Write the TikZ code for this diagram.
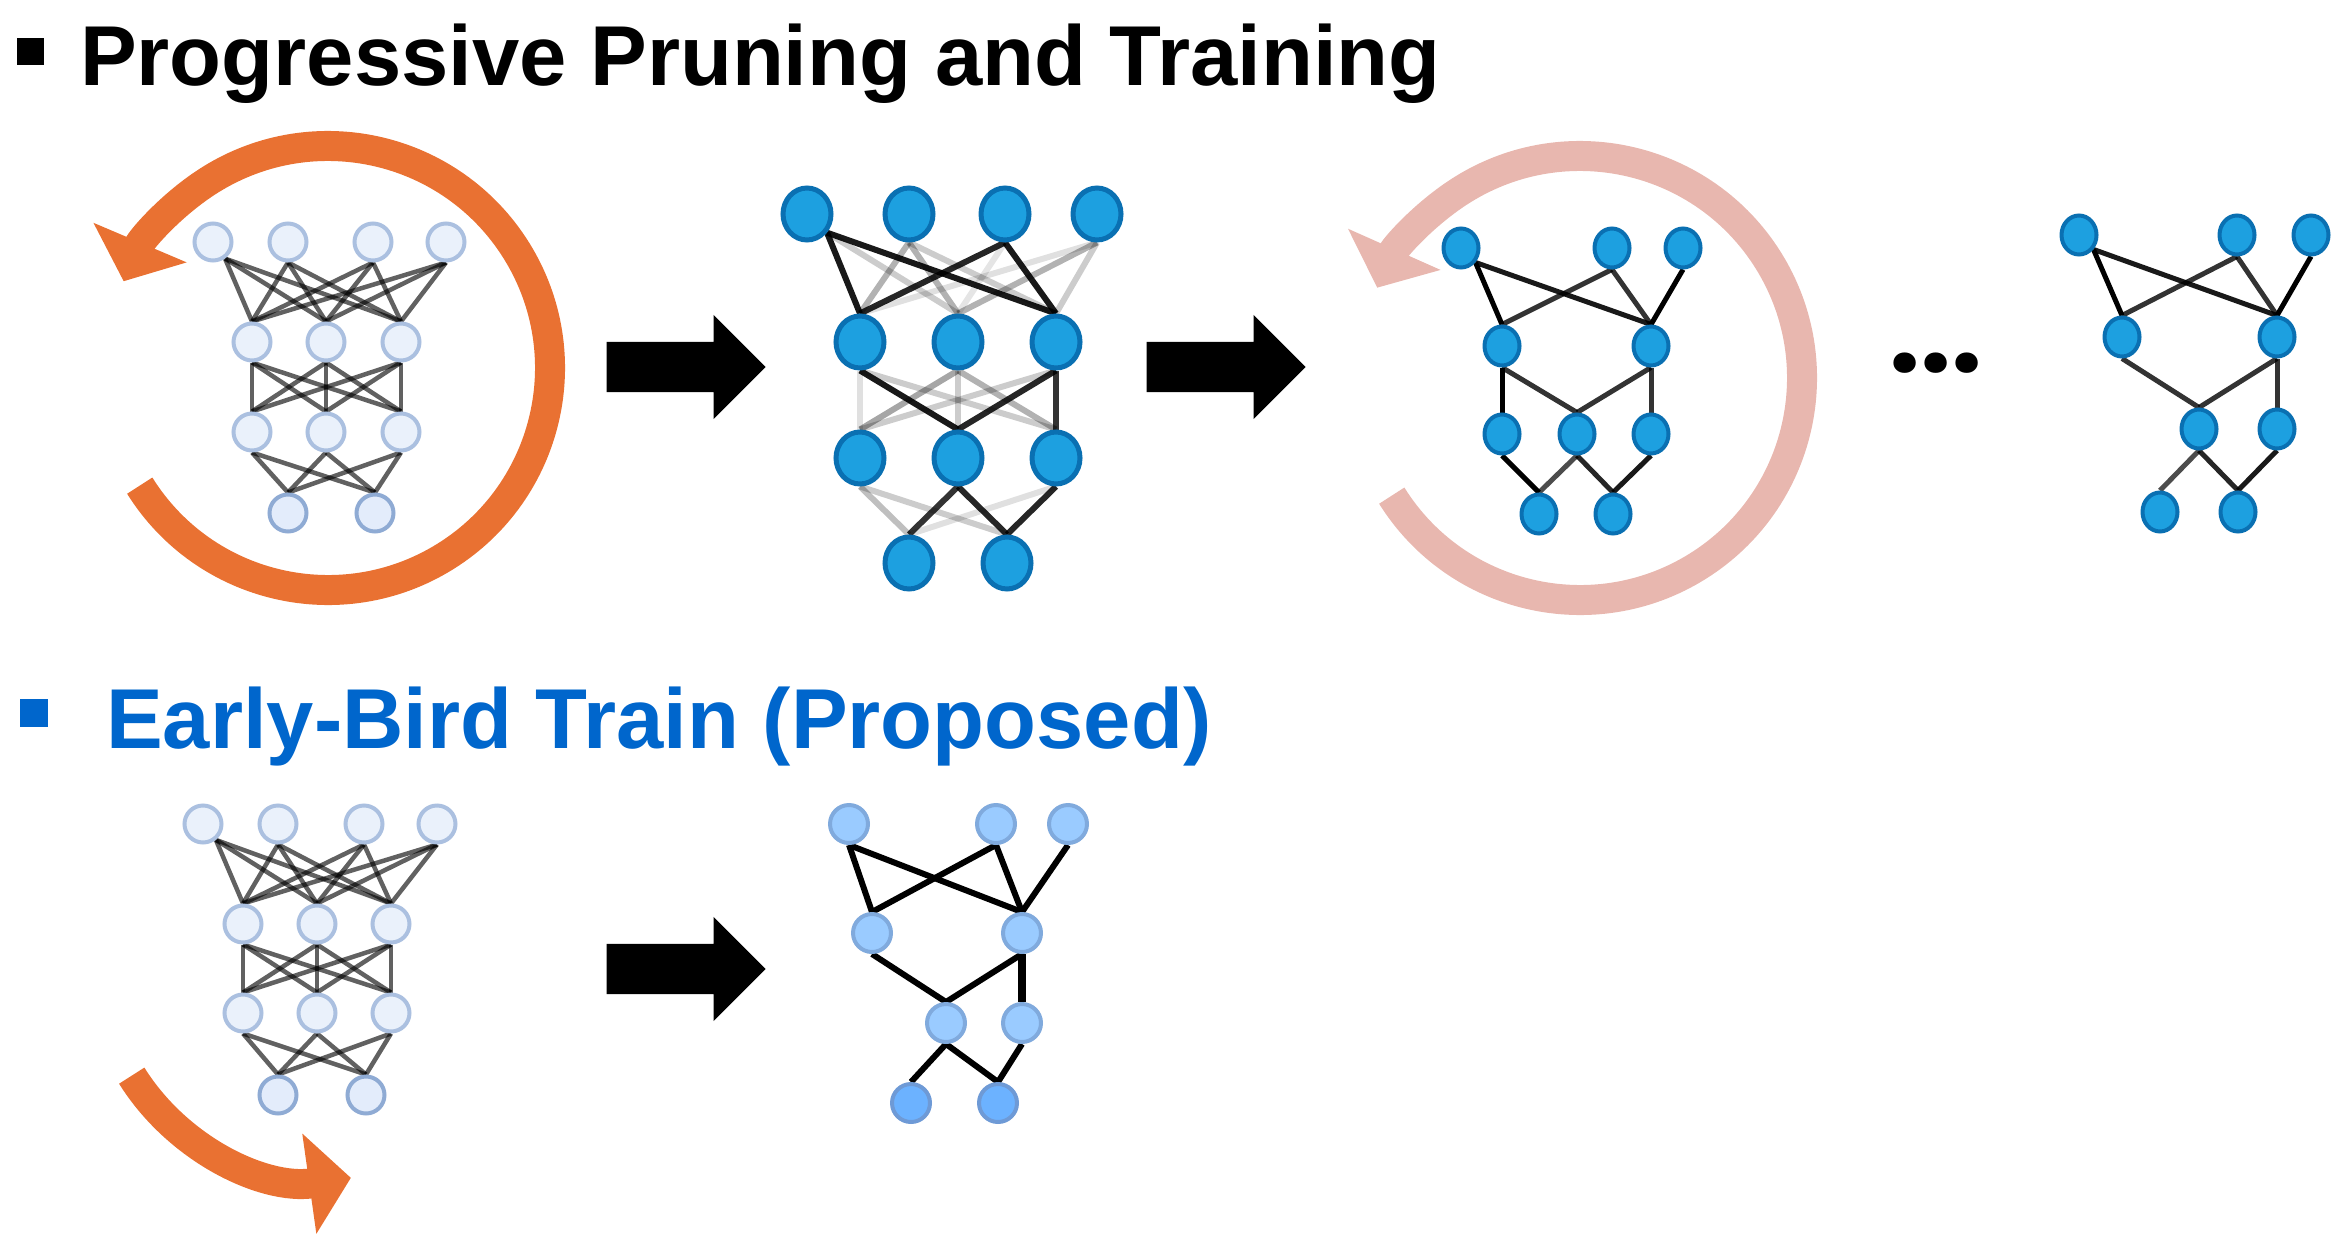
\documentclass[tikz,border=0pt]{standalone}
\usepackage{fontspec}
\setmainfont{Liberation Sans}
\newfontfamily\dotfont{Poppins}
\usetikzlibrary{arrows.meta,shapes.geometric,shapes.arrows,backgrounds}

\definecolor{orangeloop}{HTML}{E97132}
\definecolor{pinkloop}{HTML}{E8B7AF}
\definecolor{ebblue}{HTML}{0066CC}
\definecolor{paleFill}{HTML}{EAF1FB}
\definecolor{paleLine}{HTML}{ABC0E0}
\definecolor{paleFillD}{HTML}{E3ECFB}
\definecolor{paleLineD}{HTML}{8FABD4}
\definecolor{denseFill}{HTML}{1DA0E0}
\definecolor{denseLine}{HTML}{0A70B2}
\definecolor{ticketFill}{HTML}{9ACBFF}
\definecolor{ticketLine}{HTML}{80AADD}
\definecolor{ticketFillD}{HTML}{6CB2FF}
\definecolor{ticketLineD}{HTML}{6E9AD6}

\begin{document}
\begin{tikzpicture}[
  x=1pt, y=-1pt,
  title/.style={anchor=base west, inner sep=0pt, font=\fontsize{85}{100}\selectfont\bfseries},
  bullet/.style={rectangle, minimum size=27pt, inner sep=0pt},
  pale/.style={circle, draw=paleLine, fill=paleFill, line width=4pt, minimum size=37pt, inner sep=0pt},
  paleout/.style={pale, draw=paleLineD, fill=paleFillD},
  dense/.style={ellipse, draw=denseLine, fill=denseFill, line width=5pt, minimum width=48pt, minimum height=52pt, inner sep=0pt},
  pruned/.style={ellipse, draw=denseLine, fill=denseFill, line width=4pt, minimum width=35pt, minimum height=39pt, inner sep=0pt},
  ticket/.style={circle, draw=ticketLine, fill=ticketFill, line width=4pt, minimum size=38pt, inner sep=0pt},
  ticketout/.style={ticket, draw=ticketLineD, fill=ticketFillD},
  wire/.style={line width=4.5pt, black, opacity=0.62},
  link/.style={line width=6pt, black},
  thinlink/.style={line width=5pt, black},
  cycarrow/.style={line width=30pt, -{Triangle[length=42pt, width=99pt]}},
  bigarrow/.style={single arrow, fill=black, inner xsep=0pt, inner ysep=25pt, minimum height=159pt, single arrow head extend=27pt, anchor=tip},
]
\useasboundingbox (0,0) rectangle (2348,1234);

\node[bullet, fill=black] (mark1) at (30,51) {};
\node[title] (head1) at (80,85) {Progressive Pruning and Training};
\node[bullet, fill=ebblue, minimum size=28pt] (mark2) at (34,713) {};
\node[title, text=ebblue] (head2) at (106,748) {Early-Bird Train (Proposed)};

\coordinate (cA) at (328,368);
\draw[cycarrow, orangeloop] (cA) ++(148:222) arc[start angle=148, end angle=-157, radius=222];
\coordinate (cC) at (1580,378);
\draw[cycarrow, pinkloop] (cC) ++(148:222) arc[start angle=148, end angle=-156, radius=222];
\coordinate (cE) at (320,958);
\draw[cycarrow, orangeloop] (cE) ++(148:222) arc[start angle=148, end angle=82, radius=222];

\node[bigarrow] (go1) at (766,367) {};
\node[bigarrow] (go2) at (1306,367) {};
\node[bigarrow] (go3) at (766,969) {};
\node[anchor=base west, inner sep=0pt, font=\dotfont\fontsize{110}{120}\selectfont\bfseries] (more) at (1889,372) {...};

\node[pale] (At1) at (213,242) {};
\node[pale] (At2) at (288,242) {};
\node[pale] (At3) at (373,242) {};
\node[pale] (At4) at (446,242) {};
\node[pale] (Ah1) at (252,342) {};
\node[pale] (Ah2) at (326,342) {};
\node[pale] (Ah3) at (401,342) {};
\node[pale] (Ag1) at (252,432) {};
\node[pale] (Ag2) at (326,432) {};
\node[pale] (Ag3) at (401,432) {};
\node[paleout] (Ao1) at (288,513) {};
\node[paleout] (Ao2) at (375,513) {};
\begin{scope}[on background layer]
  \foreach \s in {At1.-54, At2.south, At3.south, At4.south} {\foreach \j in {1,2,3} {\draw[wire] (\s) -- (Ah\j.north);}}
  \foreach \i in {1,2,3} {\foreach \j in {1,2,3} {\draw[wire] (Ah\i.south) -- (Ag\j.north);}}
  \foreach \i in {1,2,3} {\foreach \j in {1,2} {\draw[wire] (Ag\i.south) -- (Ao\j.north);}}
\end{scope}

\node[dense] (Bt1) at (807,214) {};
\node[dense] (Bt2) at (909,214) {};
\node[dense] (Bt3) at (1005,214) {};
\node[dense] (Bt4) at (1097,214) {};
\node[dense] (Bh1) at (860,342) {};
\node[dense] (Bh2) at (958,342) {};
\node[dense] (Bh3) at (1056,342) {};
\node[dense] (Bg1) at (860,458) {};
\node[dense] (Bg2) at (958,458) {};
\node[dense] (Bg3) at (1056,458) {};
\node[dense] (Bo1) at (909,563) {};
\node[dense] (Bo2) at (1007,563) {};
\begin{scope}[on background layer]
  \foreach \a/\b/\o in {Bt1.-43/Bh1/0.9, Bt1.-43/Bh2/0.2, Bt1.-43/Bh3/0.9,
      Bt2.south/Bh1/0.3, Bt2.south/Bh2/0.3, Bt2.south/Bh3/0.2,
      Bt3.south/Bh1/0.85, Bt3.south/Bh2/0.1, Bt3.south/Bh3/0.9,
      Bt4.south/Bh1/0.12, Bt4.south/Bh2/0.3, Bt4.south/Bh3/0.2,
      Bh1.south/Bg1/0.12, Bh1.south/Bg2/0.9, Bh1.south/Bg3/0.2,
      Bh2.south/Bg1/0.35, Bh2.south/Bg2/0.2, Bh2.south/Bg3/0.3,
      Bh3.south/Bg1/0.2, Bh3.south/Bg2/0.85, Bh3.south/Bg3/0.8,
      Bg1.south/Bo1/0.25, Bg1.south/Bo2/0.2, Bg2.south/Bo1/0.8,
      Bg2.south/Bo2/0.85, Bg3.south/Bo1/0.12, Bg3.south/Bo2/0.85}
    {\draw[link, opacity=\o] (\a) -- (\b.north);}
\end{scope}

\node[pruned] (Ct1) at (1461,248) {};
\node[pruned] (Ct2) at (1612,248) {};
\node[pruned] (Ct3) at (1683,248) {};
\node[pruned] (Ch1) at (1502,346) {};
\node[pruned] (Ch2) at (1651,346) {};
\node[pruned] (Cg1) at (1502,434) {};
\node[pruned] (Cg2) at (1577,434) {};
\node[pruned] (Cg3) at (1651,434) {};
\node[pruned] (Co1) at (1539,514) {};
\node[pruned] (Co2) at (1613,514) {};
\begin{scope}[on background layer]
  \foreach \a/\b/\o in {Ct1.-45/Ch1/1, Ct1.-45/Ch2/0.9, Ct2.south/Ch1/0.8,
      Ct2.south/Ch2/0.8, Ct3.south/Ch2/1, Ch1.south/Cg1/1, Ch1.south/Cg2/0.8,
      Ch2.south/Cg2/0.8, Ch2.south/Cg3/0.8, Cg1.south/Co1/1, Cg2.south/Co1/0.7,
      Cg2.south/Co2/0.85, Cg3.south/Co2/0.9}
    {\draw[thinlink, opacity=\o] (\a) -- (\b.north);}
\end{scope}

\node[pruned] (Dt1) at (2079,235) {};
\node[pruned] (Dt2) at (2237,235) {};
\node[pruned] (Dt3) at (2311,235) {};
\node[pruned] (Dh1) at (2122,337) {};
\node[pruned] (Dh2) at (2277,337) {};
\node[pruned] (Dg1) at (2199,429) {};
\node[pruned] (Dg2) at (2277,429) {};
\node[pruned] (Do1) at (2160,512) {};
\node[pruned] (Do2) at (2238,512) {};
\begin{scope}[on background layer]
  \foreach \a/\b/\o in {Dt1.-45/Dh1/1, Dt1.-45/Dh2/0.9, Dt2.south/Dh1/0.8,
      Dt2.south/Dh2/0.8, Dt3.south/Dh2/1, Dh1.south/Dg1/0.8, Dh2.south/Dg1/0.8,
      Dh2.south/Dg2/0.8, Dg1.south/Do1/0.7, Dg1.south/Do2/0.85, Dg2.south/Do2/0.9}
    {\draw[thinlink, opacity=\o] (\a) -- (\b.north);}
\end{scope}

\node[pale] (Et1) at (203,824) {};
\node[pale] (Et2) at (278,824) {};
\node[pale] (Et3) at (364,824) {};
\node[pale] (Et4) at (437,824) {};
\node[pale] (Eh1) at (243,924) {};
\node[pale] (Eh2) at (317,924) {};
\node[pale] (Eh3) at (391,924) {};
\node[pale] (Eg1) at (243,1013) {};
\node[pale] (Eg2) at (317,1013) {};
\node[pale] (Eg3) at (391,1013) {};
\node[paleout] (Eo1) at (278,1095) {};
\node[paleout] (Eo2) at (366,1095) {};
\begin{scope}[on background layer]
  \foreach \s in {Et1.-51, Et2.south, Et3.south, Et4.south} {\foreach \j in {1,2,3} {\draw[wire] (\s) -- (Eh\j.north);}}
  \foreach \i in {1,2,3} {\foreach \j in {1,2,3} {\draw[wire] (Eh\i.south) -- (Eg\j.north);}}
  \foreach \i in {1,2,3} {\foreach \j in {1,2} {\draw[wire] (Eg\i.south) -- (Eo\j.north);}}
\end{scope}

\node[ticket] (Ft1) at (849,824) {};
\node[ticket] (Ft2) at (996,824) {};
\node[ticket] (Ft3) at (1068,824) {};
\node[ticket] (Fh1) at (872,933) {};
\node[ticket] (Fh2) at (1022,933) {};
\node[ticket] (Fg1) at (946,1023) {};
\node[ticket] (Fg2) at (1022,1023) {};
\node[ticketout] (Fo1) at (911,1103) {};
\node[ticketout] (Fo2) at (998,1103) {};
\begin{scope}[on background layer]
  \foreach \a/\b in {Ft1/Fh1, Ft1/Fh2, Ft2/Fh1, Ft2/Fh2, Ft3/Fh2, Fh1/Fg1,
      Fh2/Fg1, Fg1/Fo1, Fg1/Fo2, Fg2/Fo2}
    {\draw[link] (\a.south) -- (\b.north);}
  \draw[link, line width=8pt] (Fh2.south) -- (Fg2.north);
\end{scope}
\end{tikzpicture}
\end{document}
